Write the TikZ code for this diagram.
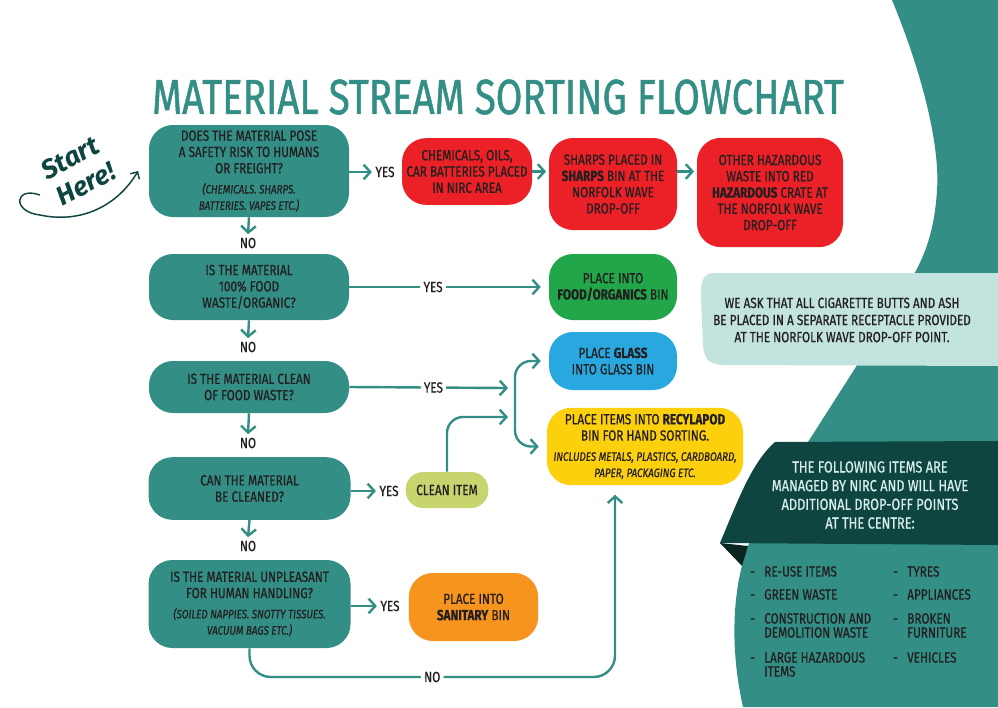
\documentclass[tikz,border=0pt]{standalone}
\usepackage{fontspec}
\setmainfont{Fira Sans}[FakeStretch=0.8,FakeBold=0.6]
\newfontfamily\titlefont{Fira Sans}[FakeStretch=0.78,FakeBold=1]
\newfontfamily\handfont{Fira Sans}
\usetikzlibrary{arrows.meta,positioning}
\definecolor{sTeal}{RGB}{51,143,134}
\definecolor{sDark}{RGB}{14,69,64}
\definecolor{sFold}{RGB}{10,36,34}
\definecolor{sMint}{RGB}{194,227,222}
\definecolor{sPale}{RGB}{215,238,234}
\definecolor{sRed}{RGB}{236,32,39}
\definecolor{sGreen}{RGB}{33,167,74}
\definecolor{sBlue}{RGB}{41,168,224}
\definecolor{sYellow}{RGB}{253,208,14}
\definecolor{sOrange}{RGB}{247,148,30}
\definecolor{sLime}{RGB}{200,212,110}
\definecolor{ink}{RGB}{35,31,32}
\newcommand\nt[1]{{\fontsize{9.2}{10.5}\selectfont\itshape #1}}
\begin{document}
\begin{tikzpicture}[x=0.75pt,y=-0.75pt,
 >={Straight Barb[length=5pt,width=11pt]},
 font=\fontsize{11}{12.2}\selectfont,
 q/.style={fill=sTeal,rounded corners=18pt,align=center,inner sep=0pt,text=ink},
 bin/.style={rounded corners=18pt,align=center,inner sep=0pt,text=ink},
 arr/.style={->,draw=sTeal,line width=1.8pt},
 lbl/.style={fill=white,inner sep=2.5pt,text=ink},
 item/.style={text=ink,inner sep=0pt,align=left,anchor=north west,font=\fontsize{11}{10.5}\selectfont}]
\useasboundingbox (0,0) rectangle (998,707);
\fill[white] (0,0) rectangle (998,707);
% background shapes on the right
\fill[sTeal] (892,0) .. controls (925,80) and (940,150) .. (937,190)
 .. controls (934,240) and (920,265) .. (905,290) -- (808,442) -- (755,530)
 .. controls (730,580) and (730,650) .. (743,707) -- (998,707) -- (998,0) -- cycle;
\fill[sMint] (998,273) -- (712,273) .. controls (702,274) and (700,285) .. (701,300)
 -- (703,345) .. controls (704,360) and (710,364) .. (722,365) -- (998,366) -- cycle;
\fill[sDark] (720,543) .. controls (738,500) and (752,462) .. (775,442) -- (998,441) -- (998,545) -- cycle;
\fill[sFold] (720,543) -- (748,546) -- (742,566) -- cycle;

\node[text=sTeal,font=\titlefont\fontsize{37}{37}\selectfont] (title) at (498,97) {MATERIAL STREAM SORTING FLOWCHART};

% questions
\node[q,minimum width=150pt,minimum height=69pt] (q1) at (249,171)
 {DOES THE MATERIAL POSE\\A SAFETY RISK TO HUMANS\\OR FREIGHT?\\[3pt]\nt{(CHEMICALS. SHARPS.}\\\nt{BATTERIES. VAPES ETC.)}};
\node[q,minimum width=150pt,minimum height=49.5pt] (q2) at (249,287) {IS THE MATERIAL\\100\% FOOD\\WASTE/ORGANIC?};
\node[q,minimum width=150pt,minimum height=39pt] (q3) at (249,387) {IS THE MATERIAL CLEAN\\OF FOOD WASTE?};
\node[q,minimum width=151.5pt,minimum height=47pt] (q4) at (249.5,488.5) {CAN THE MATERIAL\\BE CLEANED?};
\node[q,minimum width=151.5pt,minimum height=66pt] (q5) at (249.5,604)
 {IS THE MATERIAL UNPLEASANT\\FOR HUMAN HANDLING?\\[3pt]\nt{(SOILED NAPPIES. SNOTTY TISSUES.}\\\nt{VACUUM BAGS ETC.)}};

% bins
\node[bin,fill=sRed,minimum width=97.5pt,minimum height=50pt] (r1) at (467,171.5) {CHEMICALS, OILS,\\CAR BATTERIES PLACED\\IN NIRC AREA};
\node[bin,fill=sRed,minimum width=96pt,minimum height=69pt] (r2) at (613,184) {SHARPS PLACED IN\\\textbf{SHARPS} BIN AT THE\\NORFOLK WAVE\\DROP-OFF};
\node[bin,fill=sRed,minimum width=109.5pt,minimum height=82pt] (r3) at (770,192.5) {OTHER HAZARDOUS\\WASTE INTO RED\\\textbf{HAZARDOUS} CRATE AT\\THE NORFOLK WAVE\\DROP-OFF};
\node[bin,fill=sGreen,minimum width=96pt,minimum height=49.5pt] (g) at (613,287) {PLACE INTO\\\textbf{FOOD/ORGANICS} BIN};
\node[bin,fill=sBlue,minimum width=96pt,minimum height=43.5pt] (b) at (613,361) {PLACE \textbf{GLASS}\\INTO GLASS BIN};
\node[bin,fill=sYellow,minimum width=147pt,minimum height=58pt] (y) at (645,446.5)
 {PLACE ITEMS INTO \textbf{RECYLAPOD}\\BIN FOR HAND SORTING.\\[3pt]\nt{INCLUDES METALS, PLASTICS, CARDBOARD,}\\\nt{PAPER, PACKAGING ETC.}};
\node[bin,fill=sLime,rounded corners=13pt,minimum width=62pt,minimum height=27pt] (c) at (447,490) {CLEAN ITEM};
\node[bin,fill=sOrange,minimum width=97pt,minimum height=51pt] (o) at (473.5,607) {PLACE INTO\\\textbf{SANITARY} BIN};

% yes / no labels
\node[lbl] (yes1) at (385,172) {YES};
\node[lbl] (yes4) at (389,491) {YES};
\node[lbl] (yes5) at (390,606) {YES};
\node[lbl] (no1) at (248,243) {NO};
\node[lbl] (no2) at (248,347) {NO};
\node[lbl] (no3) at (248,443) {NO};
\node[lbl] (no4) at (248,546) {NO};
\coordinate (j1) at (508,388);
\coordinate (j2) at (508,417);
\coordinate (fork) at (515,405);
\coordinate (turn) at (615,677);

\draw[arr] (q1.east |- yes1) -- (yes1.west);
\draw[arr] (r1.east) -- ([xshift=-2pt]r1.east -| r2.west);
\draw[arr] (r1.east -| r2.east) -- ([xshift=-2pt]r1.east -| r3.west);
\draw[arr,shorten >=6pt] (q2.east) -- node[lbl,pos=0.42] (yes2) {YES} (g.west);
\draw[arr] (q3.east) -- node[lbl,pos=0.53] (yes3) {YES} (j1);
\draw[arr,rounded corners=12pt] (c.north) |- (j2);
\draw[arr,rounded corners=12pt,shorten >=6pt] (fork) |- (b.west);
\draw[arr,rounded corners=12pt,shorten >=6pt] (fork) |- (y.west);
\draw[arr] (q4.east |- yes4) -- (yes4.west);
\draw[arr] (q5.east |- yes5) -- (yes5.west);
\foreach \a/\b in {q1/no1,q2/no2,q3/no3,q4/no4}
 \draw[arr] (\a.south) -- (\b.north);
\draw[arr,rounded corners=16pt,shorten >=7pt] (q5.south) -- (q5.south |- turn) -- node[lbl] (no5) {NO} (turn) -- (turn |- y.south);

% start here
\node[rotate=28,text=sDark,font=\fontsize{20}{20}\selectfont\handfont\bfseries\itshape] (start) at (70,158) {Start};
\node[rotate=28,text=sDark,font=\fontsize{20}{20}\selectfont\handfont\bfseries\itshape] (here) at (86,184) {Here!};
\coordinate (swirl) at (40,195);
\draw[->,sDark,line width=1.1pt,>={Straight Barb[length=4pt,width=8pt]}] (swirl) .. controls (14,186) and (12,212) .. (40,215)
 .. controls (82,224) and (118,205) .. ([xshift=-8pt]q1.west);

% notes on the right
\node[align=center,text=ink,font=\fontsize{11}{12.8}\selectfont] (cig) at (842,320) {WE ASK THAT ALL CIGARETTE BUTTS AND ASH\\BE PLACED IN A SEPARATE RECEPTACLE PROVIDED\\AT THE NORFOLK WAVE DROP-OFF POINT.};
\node[align=center,text=sPale,font=\fontsize{12}{14}\selectfont] (nirc) at (870,495) {THE FOLLOWING ITEMS ARE\\MANAGED BY NIRC AND WILL HAVE\\ADDITIONAL DROP-OFF POINTS\\AT THE CENTRE:};
\foreach \n/\y/\t in {a/566/RE-USE ITEMS,b/589/GREEN WASTE,c/613/{CONSTRUCTION AND\\DEMOLITION WASTE},d/652/{LARGE HAZARDOUS\\ITEMS}}
 \node[item] (il\n) at (764,\y) {\llap{-\hspace{7pt}}\t};
\foreach \n/\y/\t in {a/566/TYRES,b/589/APPLIANCES,c/613/{BROKEN\\FURNITURE},d/652/VEHICLES}
 \node[item] (ir\n) at (907,\y) {\llap{-\hspace{7pt}}\t};
\end{tikzpicture}
\end{document}
